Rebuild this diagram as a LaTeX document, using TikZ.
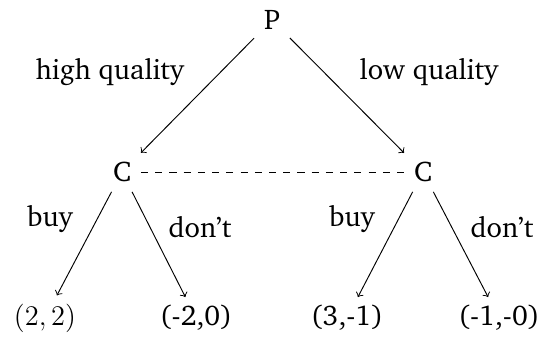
\documentclass[tikz,border=0pt]{standalone}
\usepackage[T1]{fontenc}
\usepackage{charter}
\begin{document}
\begin{tikzpicture}[x=0.4217pt,y=-0.4217pt,
  every node/.style={inner sep=3.333pt,font=\fontsize{12}{14.4}\selectfont},
  player/.style={inner sep=4pt},
  edge/.style={->},
  lbl/.style={inner sep=0pt}]
\useasboundingbox (0,0) rectangle (540,339);
\node[player] (P) at (272,20) {P};
\node[player] (CL) at (122,172) {C};
\node[player] (CR) at (423,172) {C};
\node (L1) at (45,318) {$(2,2)$};
\node (L2) at (196,318) {(-2,0)};
\node (L3) at (347,318) {(3,-1)};
\node (L4) at (499,318) {(-1,-0)};
\draw[edge] (P) -- (CL);
\draw[edge] (P) -- (CR);
\draw[dashed] (CL) -- (CR);
\draw[edge] (CL) -- (L1);
\draw[edge] (CL) -- (L2);
\draw[edge] (CR) -- (L3);
\draw[edge] (CR) -- (L4);
\node[lbl] (hq) at (110,72) {high quality};
\node[lbl] (lq) at (429,72) {low quality};
\node[lbl] (b1) at (50,219) {buy};
\node[lbl] (d1) at (200,227) {don't};
\node[lbl] (b2) at (352,219) {buy};
\node[lbl] (d2) at (502,227) {don't};
\end{tikzpicture}
\end{document}
